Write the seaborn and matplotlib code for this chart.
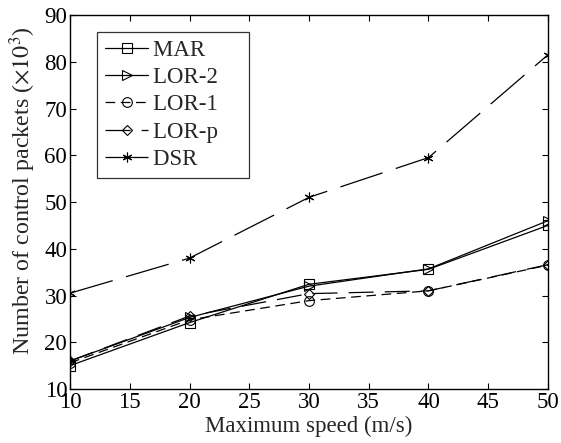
import pandas as pd
import matplotlib
matplotlib.use("Agg")
import matplotlib.pyplot as plt
import seaborn as sns

# data
speed = [10, 20, 30, 40, 50]
mar = [15.0, 24.2, 32.4, 35.6, 45.0]
lor2 = [16.0, 25.3, 32.0, 35.7, 46.0]
lor1 = [15.6, 24.8, 28.9, 31.0, 36.5]
lorp = [16.0, 25.6, 30.4, 31.0, 36.6]
dsr = [30.5, 38.0, 51.0, 59.5, 81.5]

series = {"MAR": mar, "LOR-2": lor2, "LOR-1": lor1, "LOR-p": lorp, "DSR": dsr}

sns.set_theme(style="ticks")
plt.rcParams["font.family"] = ["Liberation Serif", "DejaVu Serif"]
plt.rcParams["mathtext.fontset"] = "stix"
plt.rcParams["lines.scale_dashes"] = False

# marker, dash pattern (points), marker size
styles = {
    "MAR":   ("s", None, 7),
    "LOR-2": (">", None, 7),
    "LOR-1": ("o", (7, 4), 7),
    "LOR-p": ("D", (18, 8), 5.5),
    "DSR":   ((6, 2, 0), (32, 10), 7),
}

fig = plt.figure(figsize=(5.61, 4.43), dpi=100)
ax = fig.add_axes([0.1248, 0.1219, 0.852, 0.8442])

for name, vals in series.items():
    df = pd.DataFrame({"speed": speed, "val": vals})
    mk, dash, ms = styles[name]
    sns.lineplot(data=df, x="speed", y="val", ax=ax, color="black",
                 linewidth=0.9, marker=mk, markersize=ms,
                 markerfacecolor="none", markeredgecolor="black",
                 markeredgewidth=0.8, label=name + "    ")
    if dash is not None:
        ax.lines[-1].set_dashes(dash)

ax.set_xlim(10, 50)
ax.set_ylim(10, 90)
ax.set_xticks(range(10, 51, 5))
ax.set_yticks(range(10, 91, 10))
ax.tick_params(direction="in", top=True, right=True, labelsize=16.5,
               length=4, width=0.8, colors="black", pad=2)
for s in ax.spines.values():
    s.set_linewidth(1.0)
    s.set_color("black")

ax.set_xlabel("Maximum speed (m/s)", fontsize=16.5)
ax.xaxis.set_label_coords(0.5, -0.072)
ax.set_ylabel(r"Number of control packets ($\times10^3$)", fontsize=17.3)
ax.yaxis.set_label_coords(-0.068, 0.53)

leg = ax.legend(loc="upper left", bbox_to_anchor=(0.056, 0.955), fontsize=16.5,
                frameon=True, fancybox=False, edgecolor="black",
                handlelength=1.9, handletextpad=0.22, borderpad=0.35,
                labelspacing=0.27, borderaxespad=0)
leg.get_frame().set_linewidth(0.9)

fig.savefig("out.png", dpi=100)
